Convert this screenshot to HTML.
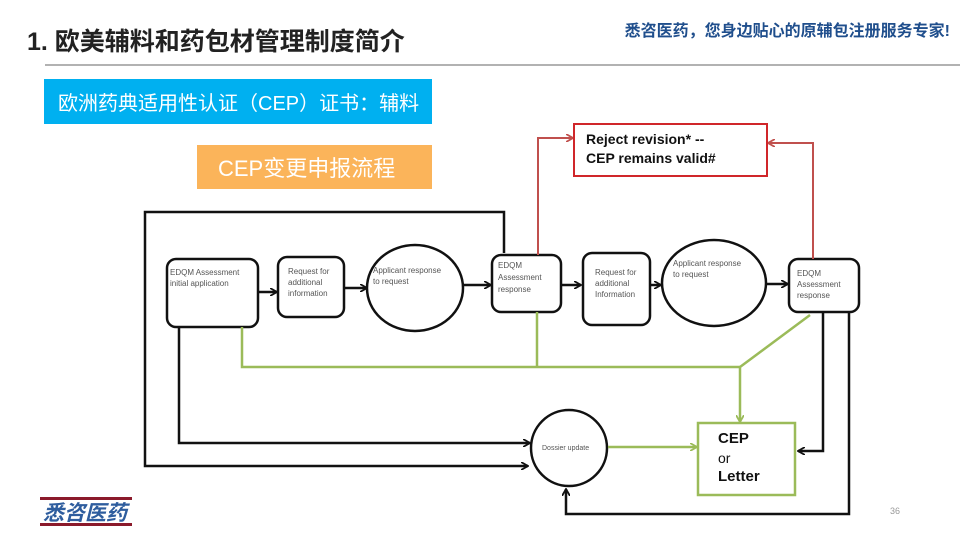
<!DOCTYPE html>
<html><head><meta charset="utf-8"><style>
body{margin:0;width:960px;height:540px;background:#fff;overflow:hidden;font-family:"Liberation Sans","Noto Sans CJK SC",sans-serif}
</style></head><body>
<svg width="960" height="540" xmlns="http://www.w3.org/2000/svg" font-family="Liberation Sans, Noto Sans CJK SC, sans-serif">
<defs>
<marker id="ab" markerWidth="8" markerHeight="8" refX="7" refY="4" orient="auto" markerUnits="userSpaceOnUse"><path d="M0,0 L7,4 L0,8" fill="none" stroke="#111" stroke-width="1.8"/></marker>
<marker id="ag" markerWidth="8" markerHeight="8" refX="7" refY="4" orient="auto" markerUnits="userSpaceOnUse"><path d="M0,0 L7,4 L0,8" fill="none" stroke="#9bbb59" stroke-width="1.8"/></marker>
<marker id="ar" markerWidth="8" markerHeight="8" refX="7" refY="4" orient="auto" markerUnits="userSpaceOnUse"><path d="M0,0 L7,4 L0,8" fill="none" stroke="#c0504d" stroke-width="1.8"/></marker>
</defs>
<text x="27" y="50" font-size="25" font-weight="bold" fill="#222">1. 欧美辅料和药包材管理制度简介</text>
<text x="950" y="36" font-size="16" font-weight="bold" fill="#1f4e8c" text-anchor="end">悉咨医药，您身边贴心的原辅包注册服务专家!</text>
<line x1="45" y1="65" x2="960" y2="65" stroke="#999" stroke-width="1.5"/>
<rect x="44" y="79" width="388" height="45" fill="#00b0f0"/>
<text x="58" y="110" font-size="20" fill="#fff">欧洲药典适用性认证（CEP）证书：辅料</text>
<rect x="197" y="145" width="235" height="44" fill="#fbb45a"/>
<text x="218" y="176" font-size="22" fill="#fff">CEP变更申报流程</text>

<g fill="none" stroke="#111" stroke-width="2.5">
<path d="M504,253 V212 H145 V466 H528" marker-end="url(#ab)"/>
<path d="M179,327 V443 H530" marker-end="url(#ab)"/>
<path d="M258,292 H277" marker-end="url(#ab)"/>
<path d="M344,288 H367" marker-end="url(#ab)"/>
<path d="M463,285 H491" marker-end="url(#ab)"/>
<path d="M561,285 H581" marker-end="url(#ab)"/>
<path d="M650,285 H661" marker-end="url(#ab)"/>
<path d="M766,284 H788" marker-end="url(#ab)"/>
<path d="M823,312 V451 H798" marker-end="url(#ab)"/>
<path d="M849,312 V514 H566 V489" marker-end="url(#ab)"/>
<rect x="167" y="259" width="91" height="68" rx="9"/>
<rect x="278" y="257" width="66" height="60" rx="9"/>
<ellipse cx="415" cy="288" rx="48" ry="43"/>
<rect x="492" y="255" width="69" height="57" rx="9"/>
<rect x="583" y="253" width="67" height="72" rx="9"/>
<ellipse cx="714" cy="283" rx="52" ry="43"/>
<rect x="789" y="259" width="70" height="53" rx="9"/>
<circle cx="569" cy="448" r="38"/>
</g>
<g fill="none" stroke="#9bbb59" stroke-width="2.5">
<path d="M242,327 V367 H740"/>
<path d="M537,312 V367"/>
<path d="M810,315 L740,367 V422" marker-end="url(#ag)"/>
<path d="M608,447 H697" marker-end="url(#ag)"/>
<rect x="698" y="423" width="97" height="72"/>
</g>
<g fill="none" stroke="#c0504d" stroke-width="2">
<path d="M538,255 V138 H573" marker-end="url(#ar)"/>
<path d="M813,259 V143 H768" marker-end="url(#ar)"/>
</g>
<rect x="574" y="124" width="193" height="52" fill="none" stroke="#d0262a" stroke-width="2"/>
<text x="586" y="144" font-size="14" font-weight="bold" fill="#111">Reject revision*  --</text>
<text x="586" y="163" font-size="14" font-weight="bold" fill="#111">CEP remains valid#</text>
<g font-size="8" fill="#555">
<text x="170" y="275">EDQM Assessment</text><text x="170" y="286">initial application</text>
<text x="288" y="274">Request for</text><text x="288" y="285">additional</text><text x="288" y="296">information</text>
<text x="373" y="273">Applicant response</text><text x="373" y="284">to request</text>
<text x="498" y="268">EDQM</text><text x="498" y="280">Assessment</text><text x="498" y="292">response</text>
<text x="595" y="275">Request for</text><text x="595" y="286">additional</text><text x="595" y="297">Information</text>
<text x="673" y="266">Applicant response</text><text x="673" y="277">to request</text>
<text x="797" y="276">EDQM</text><text x="797" y="287">Assessment</text><text x="797" y="298">response</text>
<text x="542" y="450" font-size="7">Dossier update</text>
</g>
<text x="718" y="443" font-size="15" font-weight="bold" fill="#111">CEP</text>
<text x="718" y="463" font-size="14" fill="#111">or</text>
<text x="718" y="481" font-size="15" font-weight="bold" fill="#111">Letter</text>
<text x="890" y="514" font-size="9" fill="#999">36</text>
<rect x="40" y="497" width="92" height="3" fill="#8b1a2b"/>
<rect x="40" y="523" width="92" height="3" fill="#8b1a2b"/>
<text x="43" y="520" font-size="21" font-weight="bold" font-style="italic" fill="#2e5d9e">悉咨医药</text>
</svg>
</body></html>
